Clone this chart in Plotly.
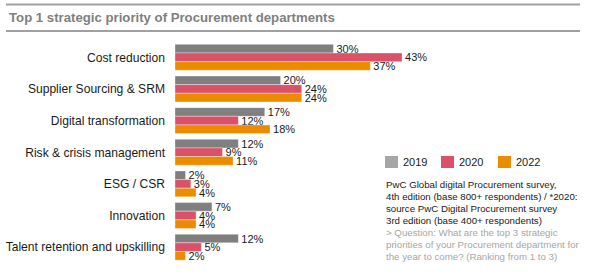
import plotly.graph_objects as go

W, H = 590, 279

categories = ["Cost reduction", "Supplier Sourcing & SRM", "Digital transformation",
              "Risk & crisis management", "ESG / CSR", "Innovation",
              "Talent retention and upskilling"]
years = ["2019", "2020", "2022"]
v2019 = [30, 20, 17, 12, 2, 7, 12]
v2020 = [43, 24, 12, 9, 3, 4, 5]
v2022 = [37, 24, 18, 11, 4, 4, 2]
series = [v2019, v2020, v2022]
bar_colors = ["#7f7f7f", "#db5169", "#eb8c00"]
legend_colors = ["#a6a6a6", "#db5169", "#eb8c00"]

title = "Top 1 strategic priority of Procurement departments"
source_lines = [
    "PwC Global digital Procurement survey,",
    "4th edition (base 800+ respondents) / *2020:",
    "source PwC Digital Procurement survey",
    "3rd edition (base 400+ respondents)",
    "> Question: What are the top 3 strategic",
    "priorities of your Procurement department for",
    "the year to come? (Ranking from 1 to 3)",
]
source_colors = ["#1a1a1a"] * 4 + ["#a6a6a6"] * 3

FONT = "Liberation Sans, Arial, sans-serif"

def px(x):
    return x / W

def py(y):
    return 1 - y / H

fig = go.Figure()
for yr, vals, col in zip(years, series, bar_colors):
    fig.add_trace(go.Bar(
        y=categories, x=vals, name=yr, orientation="h",
        marker=dict(color=col, line=dict(color="rgba(255,255,255,0.6)", width=0.6)),
        text=[f"{v}%" for v in vals], textposition="outside",
        textfont=dict(family=FONT, size=11, color="#1a1a1a"),
        constraintext="none", cliponaxis=False, showlegend=False,
    ))

x0, x_per = 175, 5.28
xmax = 50
fig.update_layout(
    width=W, height=H,
    margin=dict(l=0, r=0, t=0, b=0),
    paper_bgcolor="white", plot_bgcolor="white",
    barmode="group", bargap=0.18, bargroupgap=0,
    font=dict(family=FONT, color="#1a1a1a"),
    xaxis=dict(domain=[px(x0), px(x0 + xmax * x_per)], range=[0, xmax],
               showgrid=False, zeroline=False, showticklabels=False, showline=False),
    yaxis=dict(domain=[py(263), py(41.5)], autorange="reversed",
               showgrid=False, zeroline=False, showline=False,
               ticks="", ticklabelstandoff=9,
               tickfont=dict(family=FONT, size=12.1, color="#1a1a1a")),
)

# title rules
for yy in (4.5, 31):
    fig.add_shape(type="line", xref="paper", yref="paper",
                  x0=px(6), x1=px(580), y0=py(yy), y1=py(yy),
                  line=dict(color="#a0a0a0", width=2))
fig.add_annotation(text=f"<b>{title}</b>", xref="paper", yref="paper",
                   x=px(7), y=py(18), xanchor="left", yanchor="middle",
                   showarrow=False, font=dict(family=FONT, size=13.2, color="#7f7f7f"))

# legend
leg_x = [385, 441, 498]
for yr, col, lx in zip(years, legend_colors, leg_x):
    fig.add_shape(type="rect", xref="paper", yref="paper",
                  x0=px(lx), x1=px(lx + 13), y0=py(168), y1=py(156),
                  fillcolor=col, line=dict(width=0))
    fig.add_annotation(text=yr, xref="paper", yref="paper",
                       x=px(lx + 16), y=py(162), xanchor="left", yanchor="middle",
                       showarrow=False, font=dict(family=FONT, size=11, color="#1a1a1a"))

# source text
for i, (line, col) in enumerate(zip(source_lines, source_colors)):
    fig.add_annotation(text=line, xref="paper", yref="paper",
                       x=px(384), y=py(184.5 + i * 12.05), xanchor="left", yanchor="middle",
                       showarrow=False, font=dict(family=FONT, size=9.7, color=col))

fig.write_html("out.html")
